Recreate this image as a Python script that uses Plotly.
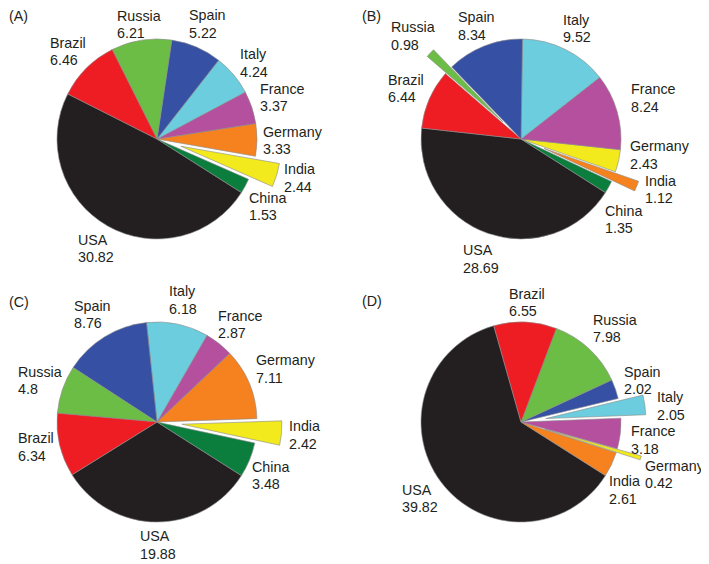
import math
import plotly.graph_objects as go

# ---------------- data ----------------
countries_abc = ["USA", "China", "India", "Germany", "France", "Italy", "Spain", "Russia", "Brazil"]
values_a = [30.82, 1.53, 2.44, 3.33, 3.37, 4.24, 5.22, 6.21, 6.46]
values_b = [28.69, 1.35, 1.12, 2.43, 8.24, 9.52, 8.34, 0.98, 6.44]
values_c = [19.88, 3.48, 2.42, 7.11, 2.87, 6.18, 8.76, 4.8, 6.34]
countries_d = ["USA", "India", "Germany", "France", "Italy", "Spain", "Russia", "Brazil"]
values_d = [39.82, 2.61, 0.42, 3.18, 2.05, 2.02, 7.98, 6.55]
exploded_a = ["India"]
exploded_b = ["Russia", "India"]
exploded_c = ["India"]
exploded_d = ["Italy", "Germany"]
panel_tags = ["(A)", "(B)", "(C)", "(D)"]

# ---------------- styles ----------------
BLACK, DKGREEN, YELLOW, ORANGE = "#231f20", "#0b7e3e", "#f2ea1d", "#f5821f"
MAGENTA, CYAN, BLUE, GREEN, RED = "#b5509f", "#6bcddd", "#3651a4", "#6cbd45", "#ee1d24"
colors_a = [BLACK, DKGREEN, YELLOW, ORANGE, MAGENTA, CYAN, BLUE, GREEN, RED]
colors_b = [BLACK, DKGREEN, ORANGE, YELLOW, MAGENTA, CYAN, BLUE, GREEN, RED]
colors_c = [BLACK, DKGREEN, YELLOW, ORANGE, MAGENTA, CYAN, BLUE, GREEN, RED]
colors_d = [BLACK, ORANGE, YELLOW, MAGENTA, CYAN, BLUE, GREEN, RED]

OX, OY = 8, 8          # page body margin offset (screen -> figure coords)
W, H = 701, 556
R = 100.0              # pie radius in px
PULL = 0.25            # explode fraction
ROT = 122.4            # start angle (deg, clockwise from 12 o'clock)
FS = 14.3              # label font size
LS = 17.3              # label line spacing (px)
FONT = "Liberation Sans, Arial, Helvetica, sans-serif"
centers = [(157, 139), (521, 139), (157, 422), (521, 422)]   # screen px
tag_pos = [(8, 16), (361, 16), (8, 302), (361, 301)]         # screen px
# manual label nudges (dx, dy) in px, per panel
label_nudges = [
    {"Russia": (0, 6), "Brazil": (0, 3), "Italy": (0, 4), "India": (-1, -4), "China": (-3, 7)},
    {"Russia": (4, 4), "Spain": (0, 3), "France": (6, -5), "Germany": (4, -14), "India": (0, -6),
     "China": (-11, 19), "USA": (0, 3)},
    {"Italy": (0, -3), "France": (2, 4), "Russia": (5, 1), "Brazil": (0, -4), "China": (-5, 5),
     "USA": (0, 4)},
    {"Russia": (4, 2), "Italy": (5, 4), "France": (3, 3), "Germany": (-3, 6), "India": (-11, 15)},
]

# Helvetica/Arial advance widths (per 1000 em)
CW = {"U": 722, "S": 667, "A": 667, "C": 722, "h": 556, "i": 222, "n": 556, "a": 556,
      "I": 278, "d": 556, "G": 778, "e": 556, "r": 333, "m": 833, "y": 500, "F": 611,
      "c": 500, "t": 278, "l": 222, "p": 556, "R": 722, "u": 556, "s": 500, "B": 667,
      "z": 500, ".": 278}


def text_w(s):
    return sum(CW.get(ch, 556) for ch in s) / 1000.0 * FS


panels = [
    (countries_abc, values_a, exploded_a, colors_a),
    (countries_abc, values_b, exploded_b, colors_b),
    (countries_abc, values_c, exploded_c, colors_c),
    (countries_d, values_d, exploded_d, colors_d),
]

fig = go.Figure()
annotations = []
for (labels, vals, expl, cols), (scx, scy), tag, (tx, ty), nudges in zip(
        panels, centers, panel_tags, tag_pos, label_nudges):
    cx, cy = scx - OX, scy - OY
    pulls = [PULL if lab in expl else 0.0 for lab in labels]
    half = R * (1 + PULL)
    fig.add_trace(go.Pie(
        labels=labels,
        values=vals,
        sort=False,
        direction="counterclockwise",
        rotation=ROT,
        pull=pulls,
        marker=dict(colors=cols, line=dict(color="#8a8a8a", width=0.6)),
        textinfo="none",
        hoverinfo="label+value",
        showlegend=False,
        domain=dict(x=[(cx - half) / W, (cx + half) / W],
                    y=[1 - (cy + half) / H, 1 - (cy - half) / H]),
    ))
    total = sum(vals)
    cum = 0.0
    for i, (lab, v, p) in enumerate(zip(labels, vals, pulls)):
        a = v / total * 360.0
        if i == 0:
            cmid = ROT + a / 2.0
        else:
            cmid = ROT - (cum + a / 2.0)
            cum += a
        t = math.radians(cmid)
        vtxt = str(v)
        hw = max(text_w(lab), text_w(vtxt)) / 2.0
        hh = 14.0
        d = (1.05 + p) * R + hw * abs(math.sin(t)) + hh * abs(math.cos(t))
        ndx, ndy = nudges.get(lab, (0, 0))
        x = cx + d * math.sin(t) + ndx
        y = cy - d * math.cos(t) + ndy
        for line, yy in ((lab, y - LS / 2.0), (vtxt, y + LS / 2.0)):
            annotations.append(dict(
                x=(x - hw) / W, y=1 - yy / H, xref="paper", yref="paper",
                text=line, showarrow=False, xanchor="left", yanchor="middle",
                font=dict(family=FONT, size=FS, color="#231f20"),
                borderpad=0,
            ))
    annotations.append(dict(
        x=(tx - OX) / W, y=1 - (ty - OY) / H, xref="paper", yref="paper", text=tag,
        showarrow=False, xanchor="left", yanchor="middle",
        font=dict(family=FONT, size=FS, color="#231f20"), borderpad=0,
    ))

fig.update_layout(
    width=W, height=H,
    margin=dict(l=0, r=0, t=0, b=0),
    paper_bgcolor="white", plot_bgcolor="white",
    annotations=annotations,
)
fig.write_html("out.html")
